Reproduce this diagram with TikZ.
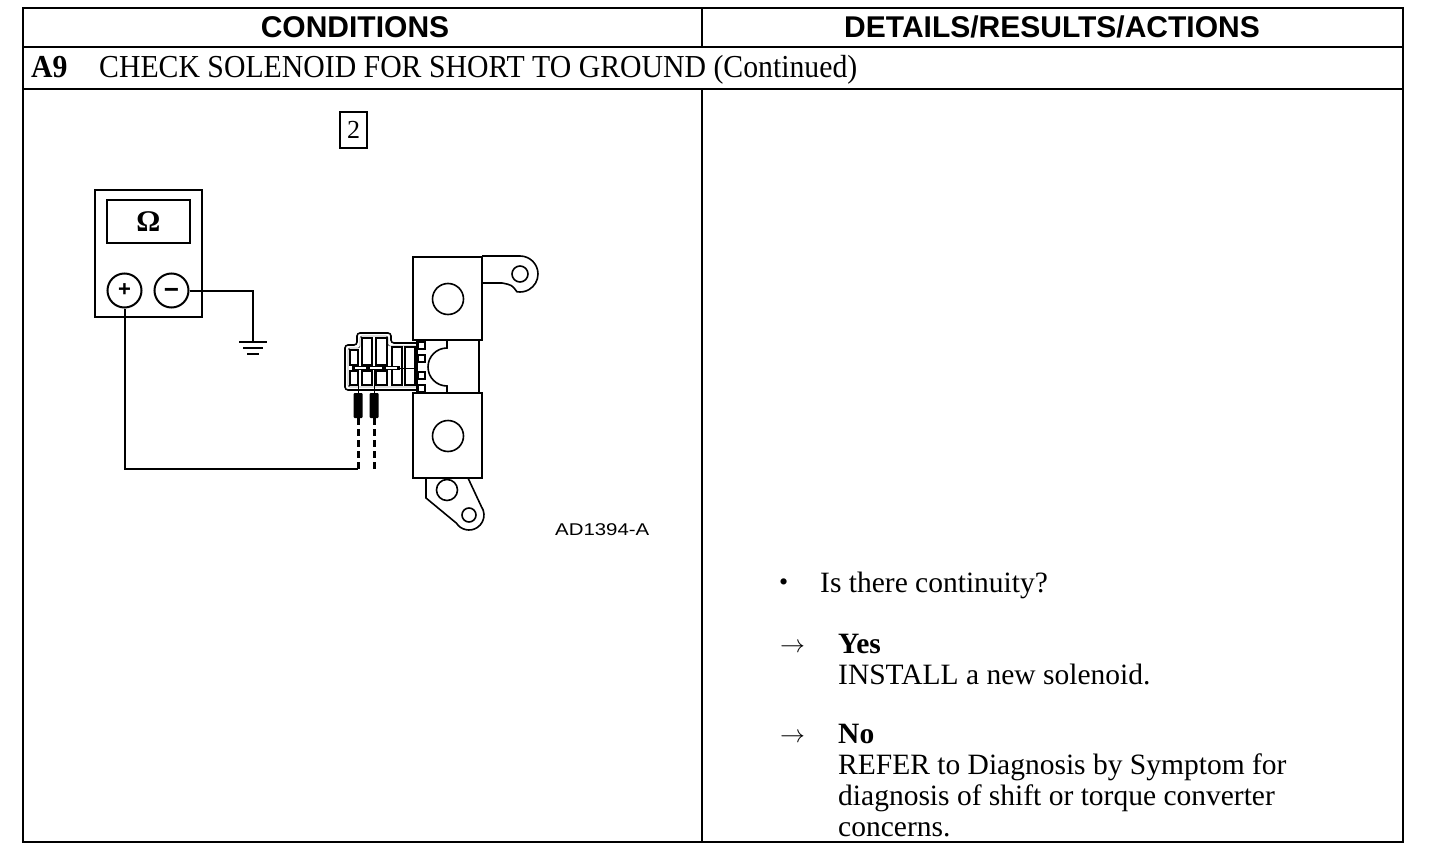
\documentclass[tikz,border=0pt]{standalone}
\usepackage{fontspec}
\setmainfont{Liberation Serif}
\setsansfont{Liberation Sans}
\newfontfamily\titlefont[FakeStretch=0.93]{Liberation Serif}
\newfontfamily\labelfont[FakeStretch=1.2]{Liberation Sans}
\usepackage{tikz}
\usetikzlibrary{calc}

\begin{document}
\begin{tikzpicture}[x=1pt, y=1pt,
        tbl/.style={line width=2.4pt},
        hdr/.style={font=\sffamily\bfseries\fontsize{30}{36}\selectfont, inner sep=0, anchor=base},
        ttl/.style={font=\titlefont\fontsize{32}{36}\selectfont, inner sep=0, anchor=base west},
        txt/.style={font=\fontsize{29.5}{31}\selectfont, inner sep=0, anchor=base west},
        wire/.style={line width=2pt},
        part/.style={line width=1.6pt},
        lead/.style={line width=3pt, dash pattern=on 7pt off 4pt},
        term/.style={circle, draw, line width=2pt, minimum size=34pt, inner sep=0,
            font=\sffamily\bfseries\fontsize{22}{22}\selectfont}]
        \useasboundingbox (0,0) rectangle (1456,-856);
        \fill[white] (0,0) rectangle (1456,-856);

        % table
        % -----
        \draw[tbl] (23,-8) rectangle (1403,-842);
        \draw[tbl] (23,-47) -- (1403,-47);
        \draw[tbl] (23,-89) -- (1403,-89);
        \draw[tbl] (702,-8) -- (702,-47);
        \draw[tbl] (702,-89) -- (702,-842);

        % headings
        \node[hdr] (cond) at (355,-38) {CONDITIONS};
        \node[hdr] (acts) at (1052,-38) {DETAILS/RESULTS/ACTIONS};
        \node[ttl] (stepno) at (31,-78) {\bfseries A9};
        \node[ttl] (title) at (99,-78) {CHECK SOLENOID FOR SHORT TO GROUND (Continued)};

        % figure number
        \node[draw, line width=1.2pt, minimum width=27pt, minimum height=36pt, inner sep=0,
            font=\fontsize{26}{26}\selectfont] (fignum) at (353.5,-130) {2};

        % ohmmeter
        % --------
        \draw[line width=2pt] (95,-190) rectangle (202,-317);
        \node[draw, line width=1.6pt, minimum width=83pt, minimum height=43pt,
            font=\bfseries\fontsize{30}{30}\selectfont] (disp) at (148.5,-221.5) {Ω};
        \node[term] (plus) at (124.5,-290.5) {\vphantom{+}+};
        \node[term, font=\sffamily\bfseries\fontsize{26}{26}\selectfont] (minus) at (171.5,-290.5) {\vphantom{+}−};

        % ground
        \coordinate (gnd) at (253,-342);
        \draw[wire] (minus.east) -| (gnd);
        \draw[wire] (gnd) ++(-14,0) -- ++(28,0);
        \draw[wire] (gnd) ++(-10,-6) -- ++(20,0);
        \draw[wire] (gnd) ++(-6,-12) -- ++(12,0);

        % solenoid
        % --------
        % blocks
        \draw[part] (413,-257) rectangle (482,-340);
        \draw[part] (413,-393) rectangle (482,-478);
        \draw[part] (448,-299) circle (15.5);
        \draw[part] (448,-436) circle (15.5);

        % upper tab
        \draw[part] (482,-256) -- (520,-256) arc[start angle=90, end angle=-100, radius=18]
            .. controls (512,-285) .. (502,-283) -- (482,-283);
        \draw[part] (520,-274) circle (8);

        % lower tab
        \coordinate (E2) at (469,-515);
        \draw[part] (426,-478) -- (426,-498) -- ([shift={(213:15)}]E2)
            arc[start angle=213, end angle=395, radius=15] -- (468,-478);
        \draw[part] (447,-490) circle (10.5);
        \draw[part] (E2) circle (7);

        % middle section
        \draw[part] (417,-340) rectangle (479,-393);
        \draw[part] (447,-341) -- (447,-348) arc[start angle=90, end angle=270, radius=19] -- (447,-392);
        \foreach \y in {342,355,372,385}
            \draw[part] (418,-\y) rectangle ++(7,-7);

        % plug
        \draw[part, rounded corners=3pt] (417,-343) -- (391,-343) -- (391,-333) -- (357,-333)
            -- (357,-345) -- (345,-345) -- (345,-390) -- (417,-390);
        \draw[rounded corners=2pt] (417,-346) -- (388,-346) -- (388,-336) -- (360,-336)
            -- (360,-348) -- (348,-348) -- (348,-387) -- (417,-387);
        \foreach \xa/\xb in {362/372, 376/387}
            \draw[part] (\xa,-338) rectangle (\xb,-365);
        \draw[part] (350,-350) rectangle (358,-365);
        \foreach \xa/\xb in {350/358, 362/372, 376/387}
            \draw[part] (\xa,-371) rectangle (\xb,-385);
        \foreach \xa in {392,405}
            \draw[part] (\xa,-347) rectangle ++(10,-38);
        \draw[line width=4.5pt] (352,-368) -- (400,-368);
        \draw[white, line width=1.2pt] (355,-368) -- (366,-368) (370,-368) -- (382,-368) (386,-368) -- (397,-368);
        \draw (400,-368) -- (417,-368);

        % probes
        \coordinate (tipA) at (358,-418);
        \coordinate (tipB) at (374,-418);
        \coordinate (endA) at (358,-469);
        \coordinate (endB) at (374,-469);
        \draw[thick] (358,-370) -- (358,-394) (374,-370) -- (374,-394);
        \foreach \x in {358,374}
            \fill[rounded corners=1pt] (\x-4.5,-393) rectangle (\x+4.5,-418);
        \draw[lead] (tipA) -- (endA);
        \draw[lead] (tipB) -- (endB);
        \draw[wire] (plus.south) |- (endA);

        % figure label
        \node[font=\labelfont\fontsize{17}{17}\selectfont, inner sep=0, anchor=base west] (figid) at (555,-535) {AD1394-A};

        % results
        % -------
        \node[txt, font=\fontsize{26}{26}\selectfont] (bullet) at (779,-590) {\textbullet};
        \node[txt] (question) at (820,-592) {Is there continuity?};
        \node[txt, font=\fontsize{26}{26}\selectfont] (yesarrow) at (780,-652) {$\rightarrow$};
        \node[txt] (yes) at (838,-653) {\bfseries Yes};
        \node[txt] (yesdo) at (838,-684) {INSTALL a new solenoid.};
        \node[txt, font=\fontsize{26}{26}\selectfont] (noarrow) at (780,-742) {$\rightarrow$};
        \node[txt] (no) at (838,-743) {\bfseries No};
        \foreach \t [count=\i] in {REFER to Diagnosis by Symptom for,
                diagnosis of shift or torque converter, concerns.}
            \node[txt] (nodo\i) at (838,-743-31*\i) {\t};

    \end{tikzpicture}
\end{document}
